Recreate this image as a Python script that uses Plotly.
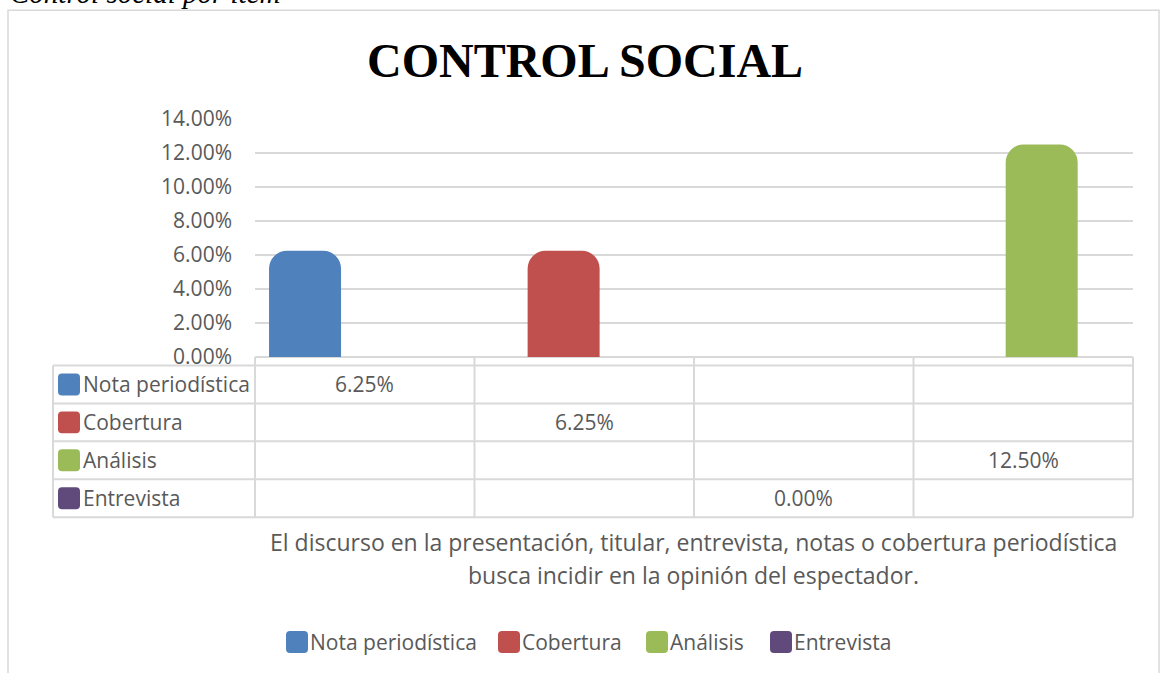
import plotly.graph_objects as go

# ------------------ data ------------------
series = ["Nota periodística", "Cobertura", "Análisis", "Entrevista"]
values = [0.0625, 0.0625, 0.125, 0.0]
columns = [0, 1, 3, 2]          # column of the data table where each series sits
colors = ["#4F81BD", "#C0504D", "#9BBB59", "#604A7B"]
y_ticks = [0, 0.02, 0.04, 0.06, 0.08, 0.10, 0.12, 0.14]
caption = ["El discurso en la presentación, titular, entrevista, notas o cobertura periodística",
           "busca incidir en la opinión del espectador."]

# ------------------ pixel helpers ------------------
W, H = 1164, 673
L, R, T, B = 255, 1133, 119, 357.5
PW, PH = R - L, B - T


def px(x):
    return (x - L) / PW


def py(y):
    return (B - y) / PH


def rounded_square(x0, y0, x1, y1, r=4):
    rx, ry = r / PW, r / PH
    a, b, c, d = px(x0), px(x1), py(y1), py(y0)
    return (f"M{a+rx},{c} L{b-rx},{c} Q{b},{c} {b},{c+ry} L{b},{d-ry} Q{b},{d} {b-rx},{d} "
            f"L{a+rx},{d} Q{a},{d} {a},{d-ry} L{a},{c+ry} Q{a},{c} {a+rx},{c} Z")


FONT = "Open Sans"
GREY = "#595959"
LINE = "#D9D9D9"

fig = go.Figure()

bar_w = 0.328
for i, (name, v, col, c) in enumerate(zip(series, values, columns, colors)):
    fig.add_trace(go.Bar(
        x=[col], y=[v], name=name,
        width=bar_w, offset=-0.436 + 0.178 * i,
        marker=dict(color=c, cornerradius=18, line=dict(width=0)),
        showlegend=False,
    ))

shapes = []
annotations = []

# outer chart border
shapes.append(dict(type="rect", xref="paper", yref="paper",
                   x0=px(8), x1=px(1159), y0=py(700), y1=py(10),
                   line=dict(color=LINE, width=1.5), layer="below"))

# data table grid
col_edges = [L + PW * k / 4 for k in range(5)]
row_edges = [366, 404, 442, 480, 518]
for y in row_edges:
    shapes.append(dict(type="line", xref="paper", yref="paper",
                       x0=px(53), x1=px(R), y0=py(y), y1=py(y),
                       line=dict(color=LINE, width=2)))
for x in col_edges:
    shapes.append(dict(type="line", xref="paper", yref="paper",
                       x0=px(x), x1=px(x), y0=py(B), y1=py(518),
                       line=dict(color=LINE, width=2)))
shapes.append(dict(type="line", xref="paper", yref="paper",
                   x0=px(53), x1=px(53), y0=py(366), y1=py(518),
                   line=dict(color=LINE, width=2)))

for i, (name, v, col, c) in enumerate(zip(series, values, columns, colors)):
    yc = (row_edges[i] + row_edges[i + 1]) / 2
    shapes.append(dict(type="path", xref="paper", yref="paper",
                       path=rounded_square(58, yc - 11, 80, yc + 11),
                       fillcolor=c, line=dict(width=0)))
    annotations.append(dict(xref="paper", yref="paper", x=px(81), y=py(yc),
                            xanchor="left", yanchor="middle", showarrow=False,
                            text=name, font=dict(family=FONT, size=21, color=GREY)))
    xc = (col_edges[col] + col_edges[col + 1]) / 2
    annotations.append(dict(xref="paper", yref="paper", x=px(xc), y=py(yc),
                            xanchor="center", yanchor="middle", showarrow=False,
                            text=f"{v:.2%}", font=dict(family=FONT, size=21, color=GREY)))

# axis caption (two lines)
for k, (line_txt, y) in enumerate(zip(caption, [543, 576])):
    annotations.append(dict(xref="paper", yref="paper", x=px(693), y=py(y),
                            xanchor="center", yanchor="middle", showarrow=False,
                            text=line_txt, font=dict(family=FONT, size=23, color=GREY)))

# bottom legend
leg_x = [286, 498, 646, 770]
for name, c, x in zip(series, colors, leg_x):
    shapes.append(dict(type="path", xref="paper", yref="paper",
                       path=rounded_square(x, 632, x + 22, 654),
                       fillcolor=c, line=dict(width=0)))
    annotations.append(dict(xref="paper", yref="paper", x=px(x + 22), y=py(643),
                            xanchor="left", yanchor="middle", showarrow=False,
                            text=name, font=dict(family=FONT, size=21, color=GREY)))

# title and cut-off caption above the chart
annotations.append(dict(xref="paper", yref="paper", x=px(585), y=py(60),
                        xanchor="center", yanchor="middle", showarrow=False,
                        text="<b>CONTROL SOCIAL</b>",
                        font=dict(family="Liberation Serif", size=48, color="black")))
annotations.append(dict(xref="paper", yref="paper", x=px(8), y=py(11),
                        xanchor="left", yanchor="bottom", showarrow=False,
                        text="<i>Control social por ítem</i>",
                        font=dict(family="Liberation Serif", size=29, color="black")))

fig.update_layout(
    width=W, height=H,
    margin=dict(l=L, r=W - R, t=T, b=H - B, pad=0),
    paper_bgcolor="white", plot_bgcolor="white",
    barmode="overlay",
    shapes=shapes, annotations=annotations,
    xaxis=dict(range=[-0.5, 3.5], showticklabels=False, showgrid=False,
               zeroline=False, showline=False, fixedrange=True),
    yaxis=dict(range=[0, 0.14], tickvals=y_ticks, tickformat=".2%",
               showgrid=True, gridcolor=LINE, gridwidth=1.5,
               zeroline=True, zerolinecolor=LINE, zerolinewidth=1.5,
               showline=False, ticks="", ticklabelstandoff=22,
               tickfont=dict(family=FONT, size=21, color=GREY)),
)

fig.write_html("out.html", config={"displayModeBar": False},
               post_script="document.body.style.margin='0px';")
